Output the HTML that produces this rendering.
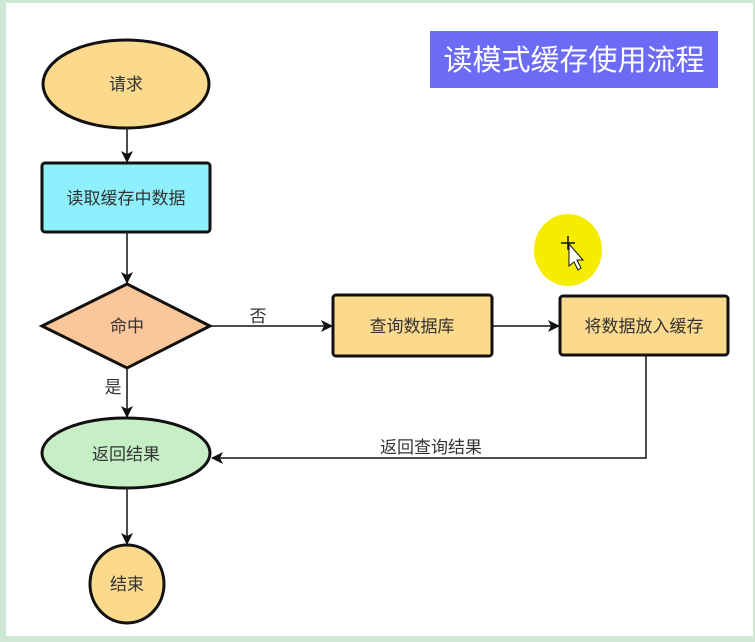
<!DOCTYPE html>
<html><head><meta charset="utf-8"><style>
html,body{margin:0;padding:0;background:#cfe8d6;}
svg{display:block;}
text{font-family:"Liberation Sans","Noto Sans CJK SC",sans-serif;}
</style></head><body>
<svg width="755" height="642" viewBox="0 0 755 642" xmlns="http://www.w3.org/2000/svg">
<defs>
<marker id="a" markerWidth="12" markerHeight="12" refX="11" refY="6" orient="auto" markerUnits="userSpaceOnUse">
<path d="M0,0 L12,6 L0,12 L3,6 Z" fill="#111"/></marker>
</defs>
<rect x="0" y="0" width="755" height="642" fill="#cfe8d6"/>
<rect x="6" y="3" width="747" height="633" fill="#ffffff"/>
<rect x="430" y="31" width="288" height="57" fill="#6b6bf5"/>
<text x="574" y="70" font-size="29" fill="#fff" text-anchor="middle">读模式缓存使用流程</text>
<ellipse cx="568" cy="250" rx="34" ry="36" fill="#f5ec00"/>
<path d="M569,244 l0,22 l5,-4 l4,8 l3,-2 l-4,-8 l6,0 Z" fill="#fff" stroke="#111" stroke-width="1"/>
<path d="M568,236 v14 M561,243 h14" stroke="#111" stroke-width="1.5"/>
<g stroke="#111" stroke-width="1.5" fill="none">
<line x1="127" y1="128" x2="127" y2="162" marker-end="url(#a)"/>
<line x1="127" y1="232" x2="127" y2="283" marker-end="url(#a)"/>
<line x1="210" y1="326" x2="332" y2="326" marker-end="url(#a)"/>
<line x1="492" y1="326" x2="559" y2="326" marker-end="url(#a)"/>
<line x1="127" y1="368" x2="127" y2="417" marker-end="url(#a)"/>
<polyline points="646,355 646,458 212,458" marker-end="url(#a)"/>
<line x1="127" y1="487" x2="127" y2="544" marker-end="url(#a)"/>
</g>
<g stroke="#111" stroke-width="3">
<ellipse cx="126" cy="84" rx="83" ry="44" fill="#fbd98d"/>
<rect x="42" y="163" width="168" height="69" rx="3" fill="#8ef0fc"/>
<polygon points="127,284 210,326 127,368 42,326" fill="#fbc69a"/>
<rect x="333" y="295" width="159" height="61" rx="3" fill="#fbd98d"/>
<rect x="560" y="296" width="168" height="59" rx="3" fill="#fbd98d"/>
<ellipse cx="126" cy="453" rx="84" ry="35" fill="#c6efc6"/>
<ellipse cx="127" cy="584" rx="37" ry="39" fill="#fbd98d"/>
</g>
<g font-size="17" fill="#333" text-anchor="middle">
<text x="126" y="90">请求</text>
<text x="126" y="204">读取缓存中数据</text>
<text x="127" y="332">命中</text>
<text x="412" y="332">查询数据库</text>
<text x="644" y="332">将数据放入缓存</text>
<text x="126" y="460">返回结果</text>
<text x="127" y="590">结束</text>
<text x="258" y="322">否</text>
<text x="113" y="393">是</text>
<text x="431" y="453">返回查询结果</text>
</g>
</svg>
</body></html>
